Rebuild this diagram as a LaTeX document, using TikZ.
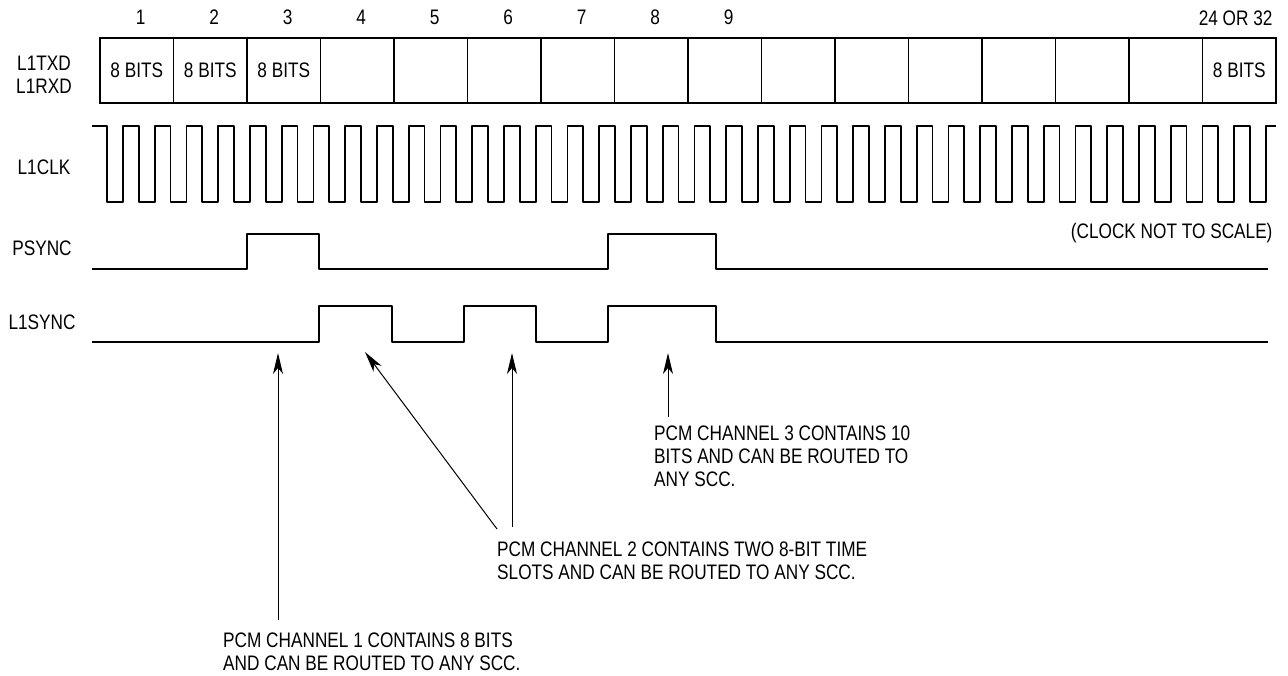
\documentclass[tikz,border=0pt]{standalone}
\usepackage{fontspec}
\setmainfont{Liberation Sans}[FakeStretch=0.82]
\usepackage{tikz}
\usetikzlibrary{positioning, arrows.meta}
\tikzset {
    >={Stealth[length=21pt, width=10pt, inset=6pt]},
    every node/.style={font=\fontsize{21}{23}\selectfont},
    wave/.style={line width=1.8pt, line join=round},
    cellbox/.style={draw, line width=1.8pt, minimum width=73.5pt, minimum height=65pt, inner sep=0pt, outer sep=0pt},
    signame/.style={align=center},
    note/.style={align=left, anchor=north west, inner sep=0pt},
    pointer/.style={->, line width=1pt}
}

\begin{document}
\begin{tikzpicture}[x=1pt, y=-1pt]
    \useasboundingbox (0,0) rectangle (1288,676);

    \foreach \i in {1,...,16}
        \node[cellbox] (cell\i) at ({100+73.5*(\i-0.5)},70.5) {};
    \foreach \i in {1,...,9}
        \node (num\i) at ({104+73.5*(\i-0.5)},17) {\i};
    \node[anchor=east] (num16) at (1276,18) {24 OR 32};
    \foreach \i in {1,2,3,16}
        \node at (cell\i) {8 BITS};

    \node[signame] (txd) at (44,75) {L1TXD\\L1RXD};
    \node[signame] (clk) at (44,167) {L1CLK};
    \node[signame] (psync) at (42,248) {PSYNC};
    \node[signame] (lsync) at (42,322) {L1SYNC};
    \node[anchor=east] (noscale) at (1276,233) {(CLOCK NOT TO SCALE)};

    \draw[wave] (92,126) -- (107,126)
        \foreach \k in {0,...,35} {
            -- ({107+31.75*\k},202) -- ({123+31.75*\k},202)
            -- ({123+31.75*\k},126) -- ({138.75+31.75*\k},126)
        }
        -- (1250,202) -- (1266,202) -- (1266,126) -- (1276,126);

    \draw[wave] (92,269) -- (247,269) -- (247,234) -- (319,234) -- (319,269)
        -- (608,269) -- (608,234) -- (716,234) -- (716,269) -- (1268,269);
    \draw[wave] (92,342) -- (319,342) -- (319,306) -- (392,306) -- (392,342)
        -- (464,342) -- (464,306) -- (536,306) -- (536,342)
        -- (608,342) -- (608,306) -- (716,306) -- (716,342) -- (1268,342);

    \node[note] (ch1) at (223,632.5) {PCM CHANNEL 1 CONTAINS 8 BITS\\AND CAN BE ROUTED TO ANY SCC.};
    \node[note] (ch2) at (497,541.5) {PCM CHANNEL 2 CONTAINS TWO 8-BIT TIME\\SLOTS AND CAN BE ROUTED TO ANY SCC.};
    \node[note] (ch3) at (654,425.5) {PCM CHANNEL 3 CONTAINS 10\\BITS AND CAN BE ROUTED TO\\ANY SCC.};

    \coordinate (tip1) at (278,353);
    \coordinate (tip2) at (365,352);
    \coordinate (tip3) at (512,353);
    \coordinate (tip4) at (668,353);

    \draw[pointer] ([yshift=12.5pt]ch1.north -| tip1) -- (tip1);
    \draw[pointer] ([yshift=12.5pt]ch2.north west) -- (tip2);
    \draw[pointer] ([yshift=14.5pt]ch2.north -| tip3) -- (tip3);
    \draw[pointer] ([yshift=8.5pt]ch3.north -| tip4) -- (tip4);
\end{tikzpicture}
\end{document}
